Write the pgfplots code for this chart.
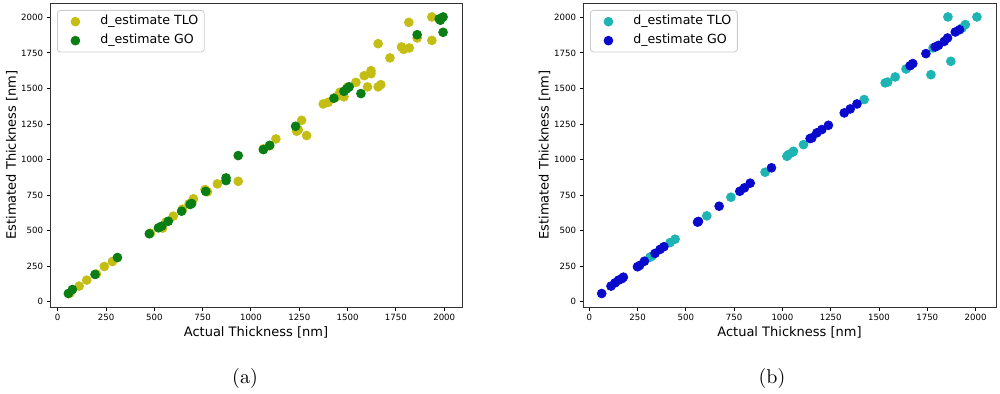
\documentclass[border=0pt]{standalone}
\usepackage{pgfplots}
\pgfplotsset{compat=1.18}
\usepackage{fontspec}
\newfontfamily\dejavu{DejaVu Sans}
\definecolor{tlo}{RGB}{196,190,20}
\definecolor{go}{RGB}{10,125,20}
\definecolor{tloc}{RGB}{30,180,180}
\definecolor{gob}{RGB}{10,10,205}
\pgfplotsset{
  mystyle/.style={
    anchor=south west,
    scale only axis,
    width=206pt, height=152pt,
    axis line style={black!80, line width=0.5pt},
    tick pos=left, tick align=outside,
    major tick length=1.75pt,
    tick style={black, line width=0.5pt},
    xtick={0,250,...,2000}, ytick={0,250,...,2000},
    /pgf/number format/assume math mode=true,
    /pgf/number format/1000 sep={},
    ticklabel style={font=\dejavu\fontsize{4.3}{5}\selectfont, inner sep=1.5pt},
    label style={font=\dejavu\fontsize{6.5}{7.5}\selectfont},
    xlabel={Actual Thickness [nm]},
    ylabel={Estimated Thickness [nm]},
    xlabel style={at={(axis description cs:0.5,-0.085)}, anchor=center},
    ylabel style={at={(axis description cs:-0.093,0.5)}, anchor=center},
    legend style={at={(0.017,0.977)}, anchor=north west,
      font=\dejavu\fontsize{6.3}{7.5}\selectfont,
      draw=black!20, rounded corners=1.5pt, fill=white,
      inner xsep=1pt, inner ysep=1.5pt, row sep=1.2pt,
      nodes={inner ysep=1pt, inner xsep=2pt}},
    legend cell align=left,
    legend image code/.code={\path[draw=none] (0pt,0pt) (18.5pt,0pt);
      \draw[##1] plot coordinates {(8pt,0pt)};},
    every axis plot/.append style={only marks, mark=*, mark size=2.2pt},
  }
}
\begin{document}
\begin{tikzpicture}
\useasboundingbox (0,0) rectangle (500pt,196.5pt);
\begin{axis}[mystyle, at={(25pt,43pt)}, xmin=-40, xmax=2092, ymin=-37, ymax=2101]
\addplot[color=tlo] coordinates {
(65,62) (111,110) (150,152) (200,195) (241,248) (283,283) (480,482)
(543,518) (560,560) (598,602) (646,651) (680,690) (702,724) (762,789)
(775,773) (826,829) (934,847) (1064,1075) (1095,1096) (1129,1145)
(1236,1199) (1245,1210) (1262,1276) (1288,1169) (1374,1391) (1400,1403)
(1440,1440) (1460,1473) (1481,1441) (1500,1510) (1543,1543) (1586,1590)
(1603,1511) (1621,1625) (1621,1604) (1658,1511) (1672,1527) (1658,1815)
(1719,1715) (1779,1792) (1790,1775) (1819,1785) (1817,1965) (1860,1855)
(1936,1838) (1936,2003)
};
\addlegendentry{d\_estimate TLO}
\addplot[color=go] coordinates {
(55,58) (76,86) (193,192) (309,311) (474,478) (521,520) (538,531)
(572,566) (641,637) (685,684) (693,691) (766,776) (871,852) (871,871)
(934,1028) (1064,1070) (1097,1100) (1231,1234) (1429,1431) (1481,1480)
(1495,1497) (1508,1511) (1569,1464) (1860,1878) (1974,1989) (1994,2003)
(1980,1980) (1994,1895)
};
\addlegendentry{d\_estimate GO}
\end{axis}
\begin{axis}[mystyle, at={(291.5pt,43pt)}, width=206.5pt, xmin=-33, xmax=2106, ymin=-37, ymax=2101]
\addplot[color=tloc] coordinates {
(314,313) (323,320) (418,416) (444,440) (608,604) (733,735) (910,911)
(1023,1023) (1031,1035) (1052,1051) (1057,1058) (1109,1105) (1423,1422)
(1532,1539) (1545,1545) (1584,1581) (1640,1637) (1769,1597) (1780,1785)
(1857,2003) (1872,1691) (1947,1949) (2007,2003) (1930,1925)
};
\addlegendentry{d\_estimate TLO}
\addplot[color=gob] coordinates {
(64,58) (112,110) (133,133) (151,152) (168,162) (176,173) (249,246)
(260,255) (285,285) (340,340) (366,368) (386,387) (560,560) (565,565)
(672,672) (779,777) (803,801) (833,834) (943,942) (1143,1148) (1152,1152)
(1178,1188) (1204,1211) (1238,1241) (1320,1328) (1351,1356) (1386,1391)
(1661,1660) (1675,1675) (1743,1745) (1791,1792) (1808,1803) (1838,1831)
(1855,1855) (1895,1897) (1917,1913)
};
\addlegendentry{d\_estimate GO}
\end{axis}
\node at (122.5pt,7.5pt) {(a)};
\node at (386pt,7.5pt) {(b)};
\end{tikzpicture}
\end{document}
